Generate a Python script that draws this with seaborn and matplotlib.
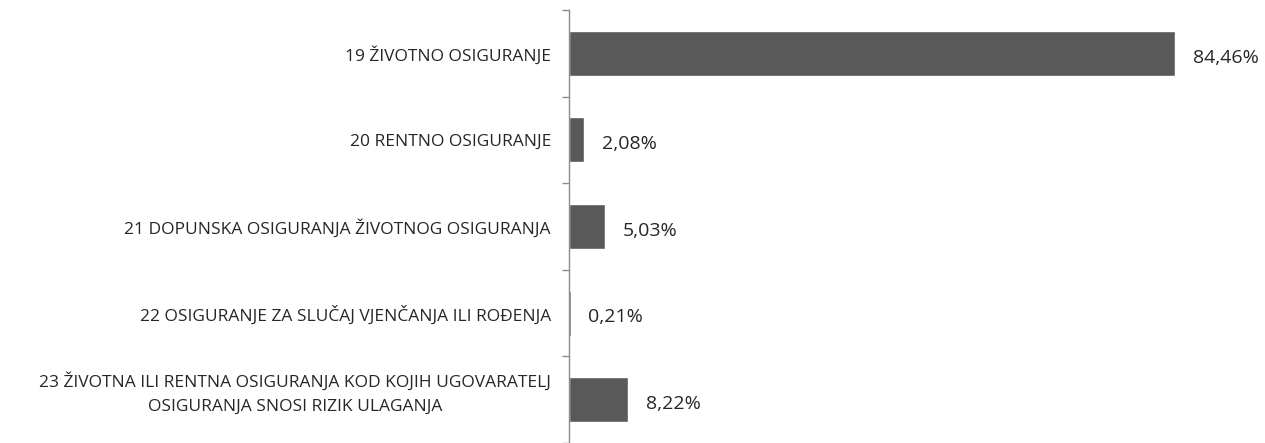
import matplotlib
matplotlib.use('Agg')
import matplotlib.pyplot as plt
import matplotlib.transforms as mtransforms
import seaborn as sns
import pandas as pd
import numpy as np

# podaci
categories = [
    '19 ŽIVOTNO OSIGURANJE',
    '20 RENTNO OSIGURANJE',
    '21 DOPUNSKA OSIGURANJA ŽIVOTNOG OSIGURANJA',
    '22 OSIGURANJE ZA SLUČAJ VJENČANJA ILI ROĐENJA',
    '23 ŽIVOTNA ILI RENTNA OSIGURANJA KOD KOJIH UGOVARATELJ\nOSIGURANJA SNOSI RIZIK ULAGANJA',
]
shares = [84.46, 2.08, 5.03, 0.21, 8.22]

df = pd.DataFrame({'Vrsta': categories, 'Udio': shares})

sns.set_theme(style='white')
plt.rcParams['font.family'] = ['Open Sans', 'DejaVu Sans']

fig = plt.figure(figsize=(12.65, 4.43), dpi=100)
ax = fig.add_axes([569 / 1265, 0.0, 1 - 569 / 1265, 433 / 443])

sns.barplot(data=df, y='Vrsta', x='Udio', orient='h', color='#595959',
            width=0.52, ax=ax, saturation=1)

ax.set_xlim(0, 97)
ax.set_ylim(len(categories) - 0.5, -0.5)

# oznake vrijednosti
for i, v in enumerate(shares):
    ax.text(v + 2.5, i + 0.05, f'{v:.2f}%'.replace('.', ','), va='center',
            ha='left', fontsize=14, color='#262626')

for s in ['top', 'right', 'bottom']:
    ax.spines[s].set_visible(False)
ax.spines['left'].set_color('#8c8c8c')
ax.spines['left'].set_linewidth(1)

ax.set_xticks([])
ax.set_xlabel('')
ax.set_ylabel('')
ax.tick_params(axis='y', which='major', left=False, length=0, pad=13,
               labelsize=12.5, labelcolor='#262626')
ax.set_yticks(np.arange(len(categories) + 1) - 0.5, minor=True)
ax.tick_params(axis='y', which='minor', left=True, length=5,
               color='#8c8c8c', width=1)
labels = ax.get_yticklabels()
for lbl in labels:
    lbl.set_multialignment('center')
    lbl.set_linespacing(1.7)
# dvoredna oznaka je malo iznad sredine kategorije
labels[-1].set_transform(labels[-1].get_transform() +
                         mtransforms.ScaledTranslation(0, 9 / 72, fig.dpi_scale_trans))

fig.savefig('out.png', dpi=100)
